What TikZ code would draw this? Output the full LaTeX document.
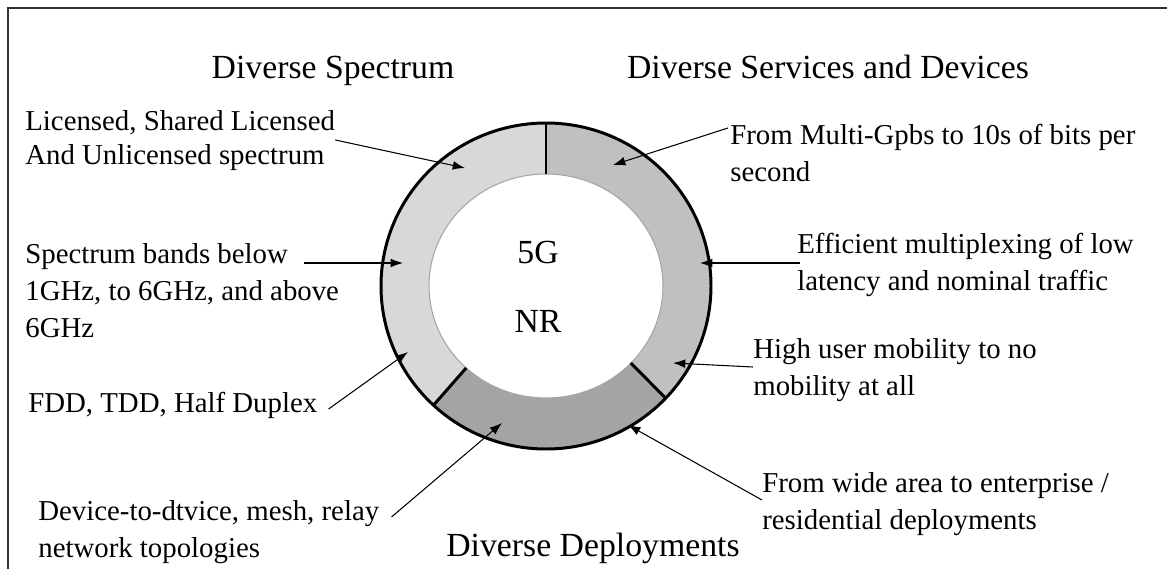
\documentclass[tikz,border=0pt]{standalone}
\usepackage{fontspec}
\setmainfont{Liberation Serif}
\usetikzlibrary{arrows.meta,calc}
\definecolor{spectrumgray}{HTML}{D8D8D8}
\definecolor{servicegray}{HTML}{C0C0C0}
\definecolor{deploygray}{HTML}{A4A4A4}
\begin{document}
\begin{tikzpicture}[
        x=0.02cm, y=0.02cm,
        heading/.style={font=\fontsize{19.2}{23}\selectfont, inner sep=0, anchor=base},
        note/.style={font=\fontsize{16.4}{21}\selectfont, align=left, inner sep=0},
        arrow/.style={-{Latex[length=7pt,width=5pt]}, line width=0.6pt},
        rim/.style={line width=1.7pt},
        seg/.style={line width=1.7pt}
    ]
    \useasboundingbox (0,0) rectangle (1167,569);
    \draw[line width=0.9pt, black!80] (8,0) -- (8,561) -- (1167,561);

    % ring
    \coordinate (c) at (546,283);
    \foreach \a/\b/\col in {90/227/spectrumgray, 227/316.5/deploygray, -43.5/90/servicegray}{
        \fill[\col] ($(c)+(\a:165 and 163)$) arc[start angle=\a, end angle=\b, x radius=165, y radius=163]
            -- ($(c)+(\b:117 and 112)$) arc[start angle=\b, end angle=\a, x radius=117, y radius=112] -- cycle;
    }
    \draw[line width=0.6pt, gray!70] (c) ellipse[x radius=117, y radius=112];
    \draw[rim] (c) ellipse[x radius=165, y radius=163];
    \foreach \a in {90, 227, 316.5}
        \draw[seg] ($(c)+(\a:117 and 112)$) -- ($(c)+(\a:165 and 163)$);

    \node[heading] (fiveg) at (538,306) {5G};
    \node[heading] (nr) at (538,237) {NR};

    \node[heading] (spectrum) at (333,490) {Diverse Spectrum};
    \node[heading] (services) at (828,490) {Diverse Services and Devices};
    \node[heading] (deploy) at (593,13) {Diverse Deployments};

    \node[note, font=\fontsize{16.4}{19.3}\selectfont, anchor=north west] (lic) at (25,459) {Licensed, Shared Licensed\\And Unlicensed spectrum};
    \node[note, anchor=north west] (bands) at (25,326) {Spectrum bands below\\1GHz, to 6GHz, and above\\6GHz};
    \node[note, anchor=base west] (fdd) at (28,157) {FDD, TDD, Half Duplex};
    \node[note, anchor=north west] (d2d) at (38,69) {Device-to-dtvice, mesh, relay\\network topologies};
    \node[note, anchor=north west] (rate) at (730,445) {From Multi-Gpbs to 10s of bits per\\second};
    \node[note, anchor=north west] (mux) at (797,336) {Efficient multiplexing of low\\latency and nominal traffic};
    \node[note, anchor=north west] (mobility) at (753,231) {High user mobility to no\\mobility at all};
    \node[note, anchor=north west] (area) at (762,97) {From wide area to enterprise /\\residential deployments};

    \coordinate (licTip) at (465,401);
    \coordinate (bandsTip) at (403,306);
    \coordinate (fddTip) at (408,217);
    \coordinate (d2dTip) at (502,146);
    \coordinate (rateTip) at (613,404);
    \coordinate (muxTip) at (700,306);
    \coordinate (mobilityTip) at (673,206);
    \coordinate (areaTip) at (628,144);

    \draw[arrow] ([shift={(0,-30)}]lic.north east) -- (licTip);
    \draw[arrow] ([shift={(-35,-20)}]bands.north east) -- (bandsTip);
    \draw[arrow] ([shift={(11,3)}]fdd.base east) -- (fddTip);
    \draw[arrow] ([shift={(12,-17)}]d2d.north east) -- (d2dTip);
    \draw[arrow] ([shift={(-2,-4)}]rate.north west) -- (rateTip);
    \draw[arrow] ([shift={(3,-30)}]mux.north west) -- (muxTip);
    \draw[arrow] ([shift={(0,-29)}]mobility.north west) -- (mobilityTip);
    \draw[arrow] ([shift={(0,-28)}]area.north west) -- (areaTip);

\end{tikzpicture}
\end{document}
